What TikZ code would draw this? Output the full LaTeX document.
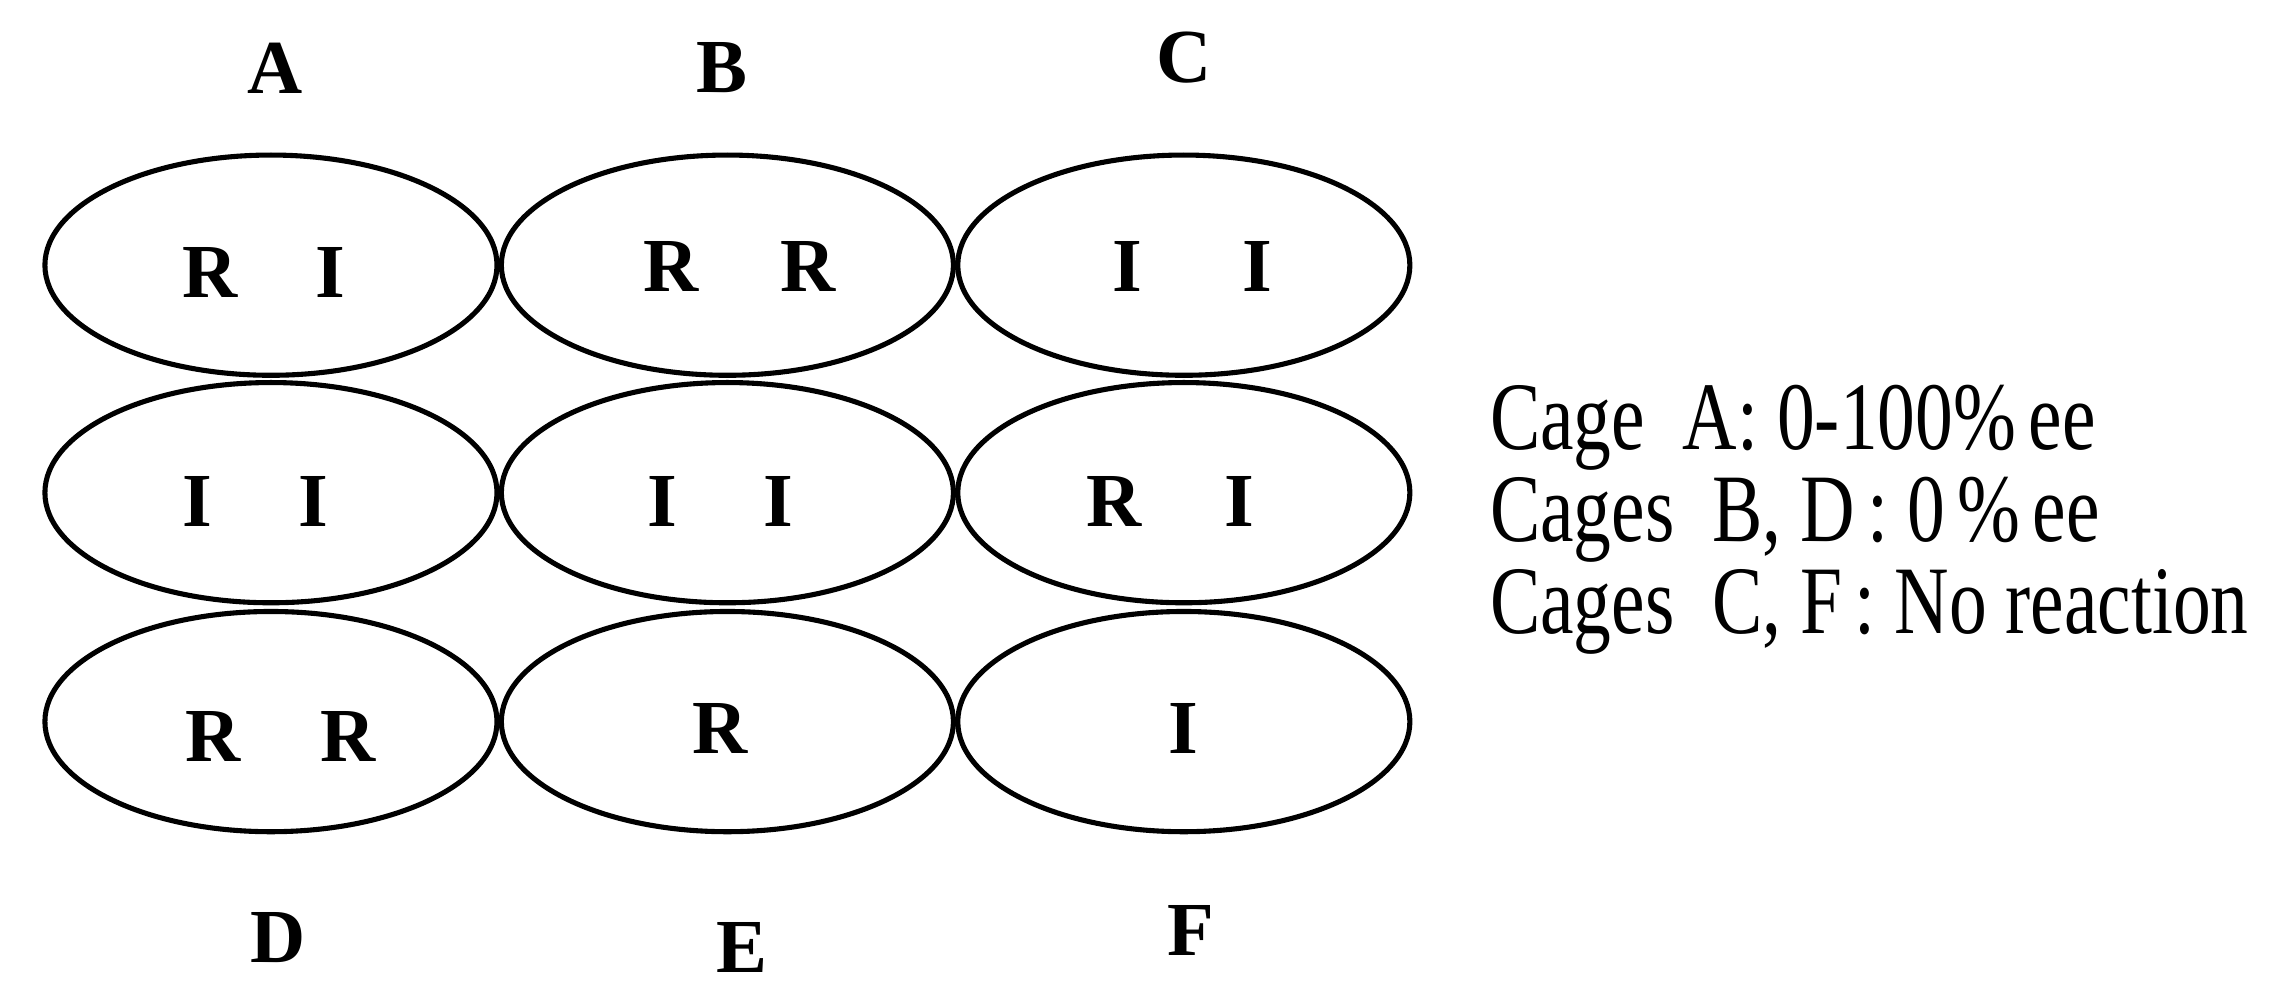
\documentclass[tikz,border=0pt]{standalone}
\usepackage{fontspec}
\setmainfont{Liberation Serif}
\begin{document}
\begin{tikzpicture}[x=0.02cm,y=-0.02cm,
  cage/.style={draw,line width=2pt,ellipse,minimum width=312*0.02cm,minimum height=152*0.02cm},
  lab/.style={font=\fontsize{30}{30}\selectfont\bfseries},
  note/.style={anchor=base west,inner sep=0pt,font=\fontsize{38}{38}\selectfont}]
\useasboundingbox (0,0) rectangle (1568,690);
\foreach \c/\x in {1/187,2/502,3/817}{
  \foreach \r/\y in {1/183,2/340,3/498}{
    \draw[line width=2pt] (\x,\y) ellipse [x radius=156, y radius=76];
  }
}
\node[lab] (A) at (190,47) {A};
\node[lab] (B) at (498,47) {B};
\node[lab] (C) at (817,40) {C};
\node[lab] (D) at (192,647) {D};
\node[lab] (E) at (512,654) {E};
\node[lab] (F) at (822,642) {F};
\foreach \x/\y/\t in {145/188/R,228/188/I,463/184/R,558/184/R,778/184/I,868/184/I,
  136/346/I,216/346/I,457/346/I,537/346/I,769/346/R,855/346/I,
  147/508/R,240/508/R,497/503/R,817/503/I}{
  \node[lab] at (\x,\y) {\t};
}
\node[note] (n1) at (1028,310) {\scalebox{0.78}[1]{Cage\ \ A: 0-100\%\,ee}};
\node[note] (n2) at (1028,374) {\scalebox{0.78}[1]{Cages\ \ B, D\,: 0\,\%\,ee}};
\node[note] (n3) at (1028,437) {\scalebox{0.78}[1]{Cages\ \ C, F\,: No reaction}};
\end{tikzpicture}
\end{document}
